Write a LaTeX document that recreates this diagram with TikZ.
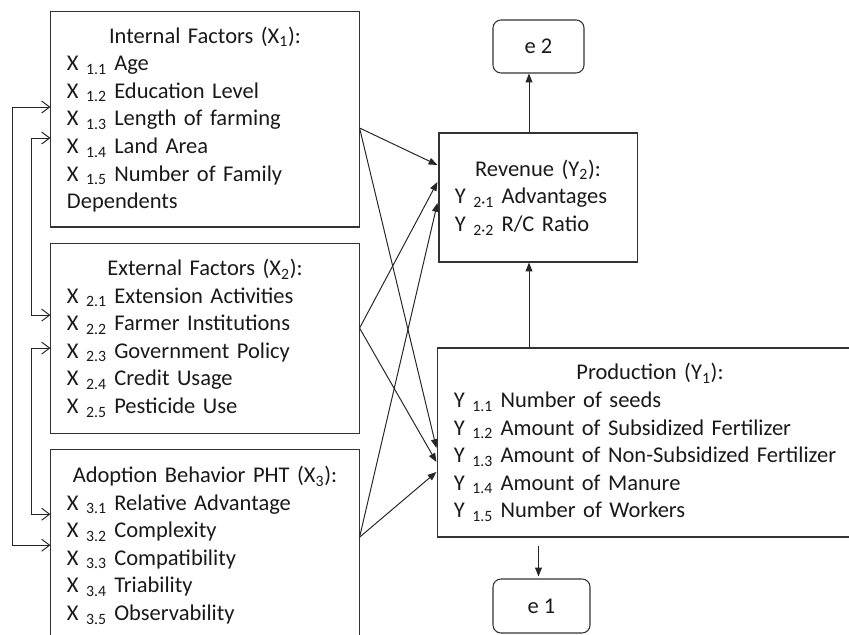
\documentclass[tikz,border=0pt]{standalone}
\usepackage{fontspec}
\setmainfont{Carlito}
\usepackage{tikz}
\usetikzlibrary{arrows.meta, positioning, calc}

\begin{document}
\begin{tikzpicture}[
    x=0.025cm, y=-0.025cm,
    txt/.style={font=\fontsize{16}{19.6}\selectfont, text=black!90},
    box/.style={rectangle, draw=black!80, line width=0.75pt, txt, align=left, inner xsep=0.4cm, inner ysep=0pt},
    errbox/.style={rectangle, rounded corners=0.2cm, draw=black!80, line width=0.75pt, txt, align=center},
    arrow/.style={-{Triangle[length=0.22cm, width=0.17cm]}, line width=0.7pt, black!85},
    pair/.style={{Straight Barb[length=0.2cm, width=0.3cm]}-{Straight Barb[length=0.2cm, width=0.3cm]}, line width=0.7pt, black!85}
]
    \useasboundingbox (0,0) rectangle (849,635);

    % exogenous variables
    \node[box, minimum width=7.7cm, minimum height=5.375cm, text width=6.9cm] (x1) at (205,119.5)
        {{\centering Internal Factors (X\textsubscript{1}):\par}
         X \textsubscript{1.1} Age\\
         X \textsubscript{1.2} Education Level\\
         X \textsubscript{1.3} Length of farming\\
         X \textsubscript{1.4} Land Area\\
         X \textsubscript{1.5} Number of Family\\
         Dependents};
    \node[box, minimum width=7.7cm, minimum height=4.75cm, text width=6.9cm, below=0.375cm of x1] (x2)
        {{\centering External Factors (X\textsubscript{2}):\par}
         X \textsubscript{2.1} Extension Activities\\
         X \textsubscript{2.2} Farmer Institutions\\
         X \textsubscript{2.3} Government Policy\\
         X \textsubscript{2.4} Credit Usage\\
         X \textsubscript{2.5} Pesticide Use};
    \node[box, minimum width=7.7cm, minimum height=4.8cm, text width=6.9cm, below=0.375cm of x2] (x3)
        {{\centering Adoption Behavior PHT (X\textsubscript{3}):\par}
         X \textsubscript{3.1} Relative Advantage\\
         X \textsubscript{3.2} Complexity\\
         X \textsubscript{3.3} Compatibility\\
         X \textsubscript{3.4} Triability\\
         X \textsubscript{3.5} Observability};

    % endogenous variables
    \node[box, minimum width=4.95cm, minimum height=3.225cm, text width=4.15cm] (rev) at (538,197.5)
        {{\centering Revenue (Y\textsubscript{2}):\par}
         Y \textsubscript{2·1} Advantages\\
         Y \textsubscript{2·2} R/C Ratio};
    \node[box, minimum width=10.6cm, minimum height=4.725cm, text width=9.8cm] (prod) at (650,442.5)
        {{\centering Production (Y\textsubscript{1}):\par}
         Y \textsubscript{1.1} Number of seeds\\
         Y \textsubscript{1.2} Amount of Subsidized Fertilizer\\
         Y \textsubscript{1.3} Amount of Non-Subsidized Fertilizer\\
         Y \textsubscript{1.4} Amount of Manure\\
         Y \textsubscript{1.5} Number of Workers};

    % errors
    \node[errbox, minimum width=2.275cm, minimum height=1.325cm] (e2) at (538.5,46.5) {e 2};
    \node[errbox, minimum width=2.425cm, minimum height=1.35cm] (e1) at (541.5,606) {e 1};

    % correlations
    \draw[pair] ($(x1.west)+(0,-12.5)$) -- ++(-38,0) |- (x3.west);
    \draw[pair] ($(x1.west)+(0,18.5)$) -- ++(-19,0) |- ($(x2.west)+(0,-23)$);
    \draw[pair] ($(x2.west)+(0,10)$) -- ++(-19,0) |- ($(x3.west)+(0,-31)$);

    % paths
    \draw[arrow] ($(x1.east)+(0,8.5)$) -- ($(rev.west)+(-1,-32.5)$);
    \draw[arrow] ($(x1.east)+(0,8.5)$) -- ($(prod.west)+(-1,5.5)$);
    \draw[arrow] ($(x2.east)+(0,-10)$) -- ($(rev.west)+(-1,-15.5)$);
    \draw[arrow] ($(x2.east)+(0,-10)$) -- ($(prod.west)+(-1,19.5)$);
    \draw[arrow] ($(x3.east)+(0,-8)$) -- ($(rev.west)+(-1,5.5)$);
    \draw[arrow] ($(x3.east)+(0,-8)$) -- ($(prod.west)+(-1,29.5)$);

    \path ($(rev.south)+(-9,0)$) coordinate (rs);
    \draw[arrow] (rs |- prod.north) -- (rs);
    \draw[arrow] ($(rev.north)+(-9,0)$) -- ($(e2.south)+(-9.5,0)$);
    \draw[arrow] ($(prod.south -| e1.north)+(-3,8)$) -- ($(e1.north)+(-3,-2)$);
\end{tikzpicture}
\end{document}
